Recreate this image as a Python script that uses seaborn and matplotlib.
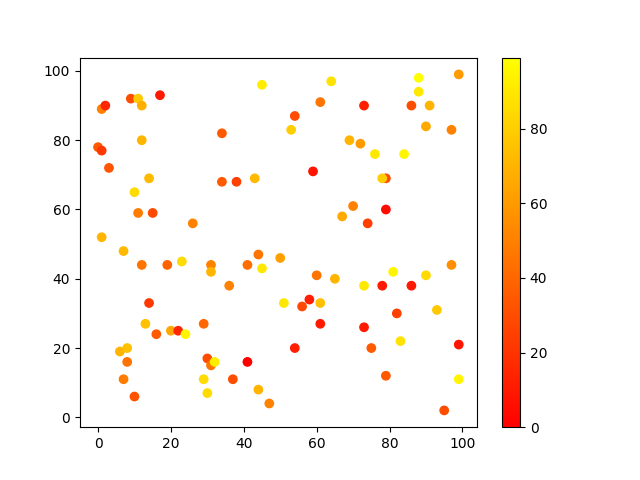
"""
Scatter of random points coloured by value, autumn colormap
"""

import matplotlib
matplotlib.use('Agg')
import matplotlib.pyplot as plt
import seaborn as sns
from matplotlib.cm import ScalarMappable
from matplotlib.colors import Normalize

# point positions and colour values
x = [1, 2, 9, 11, 12, 17, 45, 34, 0, 1, 12, 3, 14, 34, 38, 43, 10, 11, 15, 26, 1,
     64, 88, 99, 88, 61, 73, 86, 91, 54, 53, 90, 97, 69, 72, 76, 84, 59, 79, 78, 70, 67, 79, 74,
     7, 12, 19, 23, 31, 31, 36, 41, 44, 45, 50, 14, 13, 16, 20, 22, 24, 29, 6, 8, 8, 7, 10,
     30, 31, 32, 29, 30, 37, 41, 44, 47, 51,
     60, 65, 73, 78, 81, 86, 90, 97, 58, 56, 61, 61, 73, 82, 93, 54, 75, 83, 99, 79, 99, 95]
y = [89, 90, 92, 92, 90, 93, 96, 82, 78, 77, 80, 72, 69, 68, 68, 69, 65, 59, 59, 56, 52,
     97, 98, 99, 94, 91, 90, 90, 90, 87, 83, 84, 83, 80, 79, 76, 76, 71, 69, 69, 61, 58, 60, 56,
     48, 44, 44, 45, 44, 42, 38, 44, 47, 43, 46, 33, 27, 24, 25, 25, 24, 27, 19, 20, 16, 11, 6,
     17, 15, 16, 11, 7, 11, 16, 8, 4, 33,
     41, 40, 38, 38, 42, 38, 41, 44, 34, 32, 33, 27, 26, 30, 31, 20, 20, 22, 21, 12, 11, 2]
c = [50, 15, 30, 78, 68, 10, 92, 35, 35, 22, 70, 33, 72, 35, 25, 72, 85, 48, 28, 50, 70,
     88, 99, 60, 90, 45, 12, 30, 70, 30, 80, 65, 50, 70, 60, 90, 95, 8, 30, 80, 50, 66, 5, 25,
     72, 45, 38, 85, 50, 70, 50, 42, 45, 90, 62, 22, 75, 35, 65, 15, 95, 40, 70, 75, 45, 48, 32,
     30, 45, 92, 85, 85, 30, 0, 70, 50, 90,
     45, 70, 90, 10, 95, 10, 85, 55, 12, 28, 75, 10, 10, 25, 78, 12, 35, 88, 8, 35, 95, 30]

fig, ax = plt.subplots(figsize=(6.4, 4.8), dpi=100)
norm = Normalize(vmin=min(c), vmax=max(c))
sns.scatterplot(x=x, y=y, hue=c, palette='autumn', hue_norm=norm,
                s=36, edgecolor='face', linewidth=1, legend=False, ax=ax)
fig.colorbar(ScalarMappable(norm=norm, cmap='autumn'), ax=ax)
fig.savefig('out.png', dpi=100)
